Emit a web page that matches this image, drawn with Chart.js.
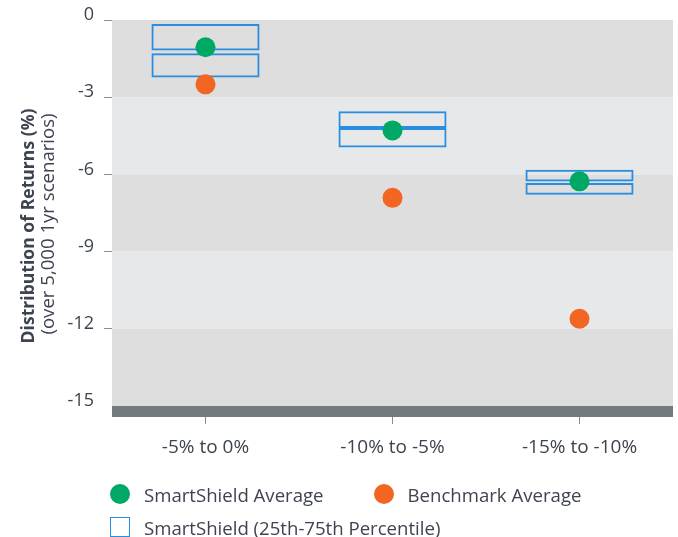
<!DOCTYPE html>
<html>
<head>
<meta charset="utf-8">
<script src="https://cdn.jsdelivr.net/npm/chart.js@4.4.1/dist/chart.umd.min.js"></script>
<style>
  html, body { margin: 0; padding: 0; background: #fff; }
  #wrap { position: relative; width: 678px; height: 537px; overflow: hidden;
          font-family: 'Open Sans', sans-serif; color: #3d4450; }
  #returnsChart { position: absolute; left: 0; top: 0; }
  .legend-row { position: absolute; left: 110px; display: flex; align-items: center; height: 22px; font-size: 18.6px; white-space: nowrap; }
  .legend-item { display: flex; align-items: center; margin-right: 50px; }
  .marker { width: 20px; height: 20px; margin-right: 14px; box-sizing: border-box; flex: none; }
  .marker.dot { border-radius: 50%; }
  .marker.box { border: 1.5px solid #2a8de0; background: #fff; }
</style>
</head>
<body>
<div id="wrap">
  <canvas id="returnsChart" width="678" height="537"></canvas>
  <div class="legend-row" id="legendRow1" style="top:483px"></div>
  <div class="legend-row" id="legendRow2" style="top:516px"></div>
</div>
<script>
const categories = ['-5% to 0%', '-10% to -5%', '-15% to -10%'];
const smartShieldAvg = [-1.06, -4.29, -6.27];
const benchmarkAvg = [-2.50, -6.91, -11.61];
// SmartShield 25th-75th percentile, drawn as an upper and a lower box around the median
const upperTop = [-0.16, -3.55, -5.82];
const upperBottom = [-1.19, -4.20, -6.28];
const lowerTop = [-1.29, -4.20, -6.33];
const lowerBottom = [-2.23, -4.95, -6.79];
const yTicks = [0, -3, -6, -9, -12, -15];
const titleLines = ['Distribution of Returns (%)', '(over 5,000 1yr scenarios)'];

const green = '#00a865';
const orange = '#f26522';
const blue = '#2a8de0';
const textColor = '#3d4450';
const bandDark = '#dddedd';
const bandLight = '#e7e8e9';
const stripColor = '#737b7c';

Chart.defaults.font.family = "'Open Sans', sans-serif";
Chart.defaults.color = textColor;

// alternating horizontal bands behind the marks, dark strip under the plot
const bands = {
  id: 'bands',
  beforeDatasetsDraw(chart) {
    const {ctx, chartArea} = chart;
    const y = chart.scales.y;
    ctx.save();
    for (let i = 0; i < yTicks.length - 1; i++) {
      const top = y.getPixelForValue(yTicks[i]);
      const bottom = y.getPixelForValue(yTicks[i + 1]);
      ctx.fillStyle = i % 2 === 0 ? bandDark : bandLight;
      ctx.fillRect(chartArea.left, top, chartArea.right - chartArea.left, bottom - top);
    }
    ctx.restore();
  },
  afterDraw(chart) {
    const {ctx, chartArea} = chart;
    ctx.save();
    ctx.fillStyle = stripColor;
    ctx.fillRect(chartArea.left, chartArea.bottom, chartArea.right - chartArea.left, 11);
    ctx.restore();
  }
};

// two-line y title: bold first line, regular second line
const axisTitle = {
  id: 'axisTitle',
  afterDraw(chart) {
    const {ctx, chartArea} = chart;
    const cy = (chartArea.top + chartArea.bottom) / 2 + 13;
    ctx.save();
    ctx.translate(29, cy);
    ctx.rotate(-Math.PI / 2);
    ctx.textAlign = 'center';
    ctx.textBaseline = 'middle';
    ctx.fillStyle = textColor;
    ctx.font = "bold 17.6px 'Open Sans'";
    ctx.fillText(titleLines[0], 0, 0);
    ctx.font = "18.6px 'Open Sans'";
    ctx.fillText(titleLines[1], 2, 20);
    ctx.restore();
  }
};

const boxStyle = {
  type: 'bar',
  grouped: false,
  backgroundColor: 'rgba(0,0,0,0)',
  borderColor: blue,
  borderWidth: 2,
  borderSkipped: false,
  barPercentage: 0.578,
  categoryPercentage: 1,
  order: 2
};

const chart = new Chart(document.getElementById('returnsChart'), {
  type: 'bar',
  data: {
    labels: categories,
    datasets: [
      {
        type: 'line',
        label: 'SmartShield Average',
        data: smartShieldAvg,
        showLine: false,
        pointRadius: 10,
        pointHoverRadius: 10,
        pointBackgroundColor: green,
        pointBorderWidth: 0,
        backgroundColor: green,
        order: 0
      },
      {
        type: 'line',
        label: 'Benchmark Average',
        data: benchmarkAvg,
        showLine: false,
        pointRadius: 10,
        pointHoverRadius: 10,
        pointBackgroundColor: orange,
        pointBorderWidth: 0,
        backgroundColor: orange,
        order: 1
      },
      Object.assign({
        label: 'SmartShield (25th-75th Percentile)',
        data: upperBottom.map((v, i) => [v, upperTop[i]])
      }, boxStyle),
      Object.assign({
        label: 'SmartShield (25th-75th Percentile)',
        data: lowerBottom.map((v, i) => [v, lowerTop[i]])
      }, boxStyle)
    ]
  },
  options: {
    responsive: false,
    animation: false,
    layout: { autoPadding: false, padding: { top: 20, right: 5, bottom: 0, left: 0 } },
    plugins: {
      legend: { display: false },
      tooltip: { enabled: false }
    },
    scales: {
      x: {
        offset: true,
        border: { display: false },
        grid: { offset: false, drawOnChartArea: false, tickLength: 18, color: '#8a8f94' },
        ticks: { padding: 12, font: { size: 19 }, color: textColor },
        afterFit(scale) {
          scale.height = 131;
          scale.paddingLeft = 0;
          scale.paddingRight = 0;
        }
      },
      y: {
        min: -15,
        max: 0,
        border: { display: false },
        afterBuildTicks(scale) { scale.ticks = yTicks.map(v => ({ value: v })); },
        grid: {
          drawOnChartArea: false,
          tickLength: 8,
          color: c => (c.tick && c.tick.value === -15 ? 'rgba(0,0,0,0)' : '#8a8f94')
        },
        ticks: { padding: 10, labelOffset: -5, font: { size: 18 }, color: textColor },
        afterFit(scale) {
          scale.width = 112;
          scale.paddingTop = 0;
          scale.paddingBottom = 0;
        }
      }
    }
  },
  plugins: [bands, axisTitle]
});

// HTML legend built from the dataset labels and colours
function legendItem(text, markerClass, color) {
  const item = document.createElement('div');
  item.className = 'legend-item';
  const m = document.createElement('span');
  m.className = 'marker ' + markerClass;
  if (color) m.style.background = color;
  const t = document.createElement('span');
  t.textContent = text;
  item.appendChild(m);
  item.appendChild(t);
  return item;
}
const ds = chart.data.datasets;
document.getElementById('legendRow1').appendChild(legendItem(ds[0].label, 'dot', green));
document.getElementById('legendRow1').appendChild(legendItem(ds[1].label, 'dot', orange));
document.getElementById('legendRow2').appendChild(legendItem(ds[2].label, 'box'));
</script>
</body>
</html>
